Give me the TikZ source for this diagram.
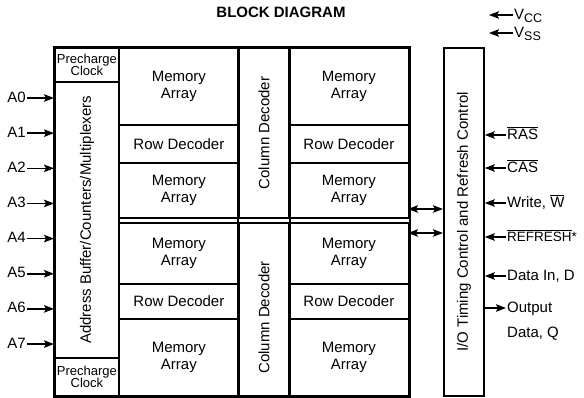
\documentclass[tikz,border=0pt]{standalone}
\usepackage{fontspec}
\setmainfont{Liberation Sans}
\usetikzlibrary{arrows.meta,positioning,calc}

\begin{document}
\begin{tikzpicture}[x=1pt,y=-1pt,font=\fontsize{15}{17}\selectfont,
    blk/.style={draw,line width=1.8pt,inner sep=0pt,anchor=north west,align=center},
    frm/.style={line width=1.8pt},
    sml/.style={font=\fontsize{13}{14}\selectfont},
    vtxt/.style={rotate=90,inner sep=0pt},
    sig/.style={line width=1.5pt,-{Stealth[length=10pt,width=7.5pt,inset=2pt]}},
    bus/.style={line width=1.5pt,{Stealth[length=10pt,width=7.5pt,inset=2pt]}-{Stealth[length=10pt,width=7.5pt,inset=2pt]}},
    lbl/.style={inner sep=1pt,text height=11pt,text depth=3pt}]
  \useasboundingbox (0,0) rectangle (584,397);
  \node[font=\fontsize{15}{17}\selectfont\bfseries] (title) at (281,12) {BLOCK DIAGRAM};
  % address column
  \node[blk,sml,minimum width=64,minimum height=34] (pc1) at (54,47) {Precharge\\[-2pt]Clock};
  \node[blk,minimum width=64,minimum height=276] (addr) at (54,81) {};
  \node[blk,sml,minimum width=64,minimum height=38] (pc2) at (54,357) {Precharge\\[-2pt]Clock};
  \node[vtxt] (addrt) at (addr.center) {Address Buffer/Counters/Multiplexers};
  % memory arrays and row decoders
  \foreach \c/\x in {l/118,r/288}{
    \foreach \n/\y/\h/\t in {m1/47/77/{Memory\\Array},d1/124/38/{Row Decoder},
        m2/162/55/{Memory\\Array},m3/222/61/{Memory\\Array},
        d2/283/35/{Row Decoder},m4/318/77/{Memory\\Array}}{
      \node[blk,minimum width=120,minimum height=\h] (\c\n) at (\x,\y) {\t};}}
  \node[blk,minimum width=50,minimum height=170] (cd1) at (238,47) {};
  \node[blk,minimum width=50,minimum height=173] (cd2) at (238,222) {};
  \node[vtxt] (cd1t) at (cd1.center) {Column Decoder};
  \node[vtxt] (cd2t) at ([yshift=-8pt]cd2.center) {Column Decoder};
  \draw[frm] (pc1.north west) rectangle (rm4.south east);
  \draw[frm] (cd1.north west) -- (cd2.south west) (cd1.north east) -- (cd2.south east);
  % i/o control
  \node[blk,minimum width=40,minimum height=348] (io) at (443,47) {};
  \node[vtxt] (iot) at (io.center) {I/O Timing Control and Refresh Control};
  \coordinate (bus1) at (408,209);
  \coordinate (bus2) at (408,233);
  \draw[bus] (bus1) -- (bus1 -| io.west);
  \draw[bus] (bus2) -- (bus2 -| io.west);
  % address inputs
  \foreach \i in {0,...,7}{
    \node[lbl,anchor=east] (a\i) at (27,{98+35.15*\i}) {A\i};
    \draw[sig] (a\i.east) -- (a\i.east -| addr.west);}
  % supplies
  \node[lbl,anchor=west] (vcc) at (513,15) {V\raisebox{-3pt}{\fontsize{12.5}{13}\selectfont CC}};
  \node[lbl,anchor=west] (vss) at (513,33) {V\raisebox{-3pt}{\fontsize{12.5}{13}\selectfont SS}};
  \coordinate (vccend) at (489,15);
  \coordinate (vssend) at (489,33);
  \draw[sig] (vcc.west) -- (vccend);
  \draw[sig] (vss.west) -- (vssend);
  % control inputs
  \foreach \n/\y/\t in {ras/135/{$\overline{\mbox{RAS}}$},cas/168/{$\overline{\mbox{CAS}}$},
      wr/203/{Write, $\overline{\mbox{W}}$},
      rf/237/{\fontsize{13.5}{15}\selectfont$\overline{\mbox{REFRESH}}$*},
      din/276/{Data In, D}}{
    \node[lbl,anchor=west] (\n) at (506,\y) {\t};
    \draw[sig] (\n.west) -- (\n.west -| io.east);}
  \node[lbl,anchor=west] (out) at (506,308) {Output};
  \node[lbl,anchor=west] (outq) at (506,333) {Data, Q};
  \draw[sig] (out.west -| io.east) -- (out.west);
\end{tikzpicture}
\end{document}
